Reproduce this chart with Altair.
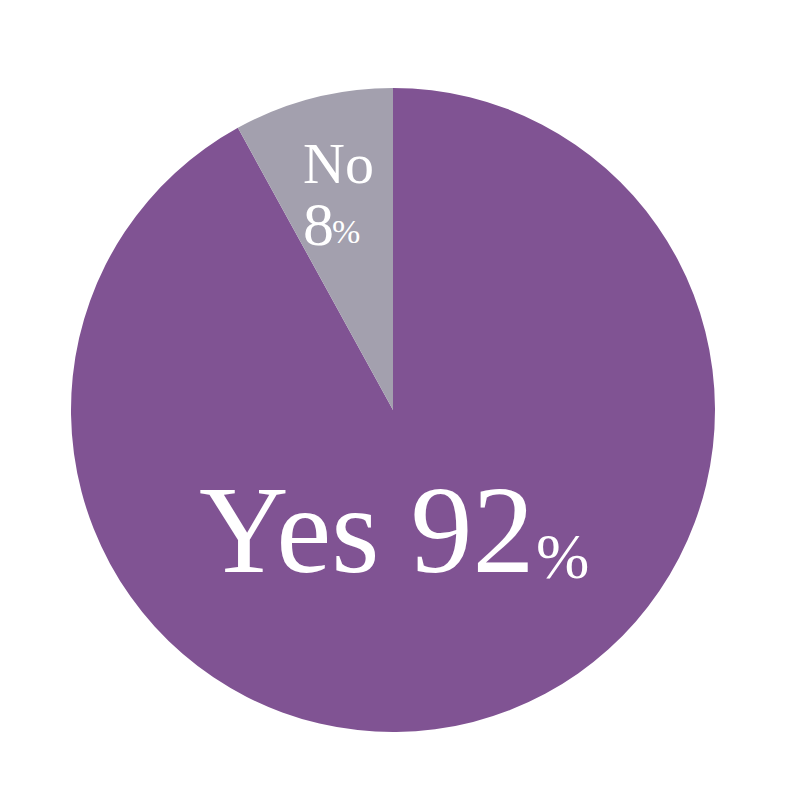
import altair as alt
import pandas as pd

categories = ["Yes", "No"]
values = [92, 8]
orders = [1, 2]
colors = ["#805393", "#a3a0ae"]

df = pd.DataFrame({"answer": categories, "pct": values, "ord": orders})

pie = alt.Chart(df).mark_arc(outerRadius=322, stroke=None).encode(
    theta=alt.Theta("pct:Q", stack=True),
    order=alt.Order("ord:Q"),
    color=alt.Color("answer:N", scale=alt.Scale(domain=categories, range=colors), legend=None),
    x=alt.value(385),
    y=alt.value(402),
)

font = "Liberation Serif"

yes_lbl = pd.DataFrame({"t": [f"Yes {values[0]}"]})
yes_text = alt.Chart(yes_lbl).mark_text(
    font=font, fontSize=124, color="white", align="left", baseline="alphabetic"
).encode(text="t:N", x=alt.value(191), y=alt.value(564))
yes_pct = alt.Chart(pd.DataFrame({"t": ["%"]})).mark_text(
    font=font, fontSize=64, color="white", align="left", baseline="alphabetic"
).encode(text="t:N", x=alt.value(528), y=alt.value(570))

no_text = alt.Chart(pd.DataFrame({"t": ["No"]})).mark_text(
    font=font, fontSize=58, color="white", align="left", baseline="alphabetic"
).encode(text="t:N", x=alt.value(295), y=alt.value(175))
no_num = alt.Chart(pd.DataFrame({"t": [str(values[1])]})).mark_text(
    font=font, fontSize=62, color="white", align="left", baseline="alphabetic"
).encode(text="t:N", x=alt.value(295), y=alt.value(237))
no_pct = alt.Chart(pd.DataFrame({"t": ["%"]})).mark_text(
    font=font, fontSize=34, color="white", align="left", baseline="alphabetic"
).encode(text="t:N", x=alt.value(324), y=alt.value(235))

chart = alt.layer(pie, yes_text, yes_pct, no_text, no_num, no_pct).properties(
    width=784, height=784, padding=0, background="white"
).configure_view(stroke=None)

chart.save("out.html", embed_options={"renderer": "svg", "actions": False})
